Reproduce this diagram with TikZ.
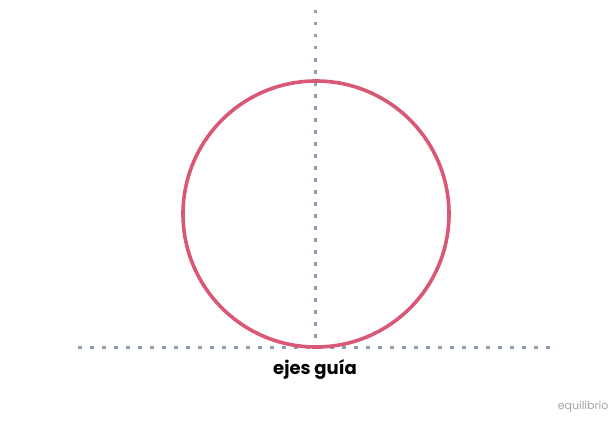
\documentclass[tikz,border=0pt]{standalone}
\usepackage{fontspec}
\setmainfont{Poppins}
\definecolor{ring}{RGB}{216,88,118}
\definecolor{guide}{RGB}{140,158,176}
\definecolor{sig}{RGB}{165,165,165}
\begin{document}
\begin{tikzpicture}[x=1pt,y=-1pt,
  guideline/.style={guide,line width=3pt,dash pattern=on 3.5pt off 8.5pt},
  ringstyle/.style={ring,line width=3.6pt}]
\useasboundingbox (0,0) rectangle (615,420);
\coordinate (vt) at (315,10);
\coordinate (vb) at (315,347);
\coordinate (hl) at (78,347);
\coordinate (hr) at (555,347);
\draw[guideline] (vt) -- (vb);
\draw[guideline] (hl) -- (hr);
\node[ringstyle,draw,circle,minimum size=266pt,inner sep=0pt] (c) at (316,214) {};
\node[font=\fontsize{18}{20}\selectfont\bfseries] (lab) at (315,369) {ejes guía};
\node[font=\fontsize{11}{13}\selectfont,text=sig,anchor=east] (sg) at (612,407) {equilibrio};
\end{tikzpicture}
\end{document}
